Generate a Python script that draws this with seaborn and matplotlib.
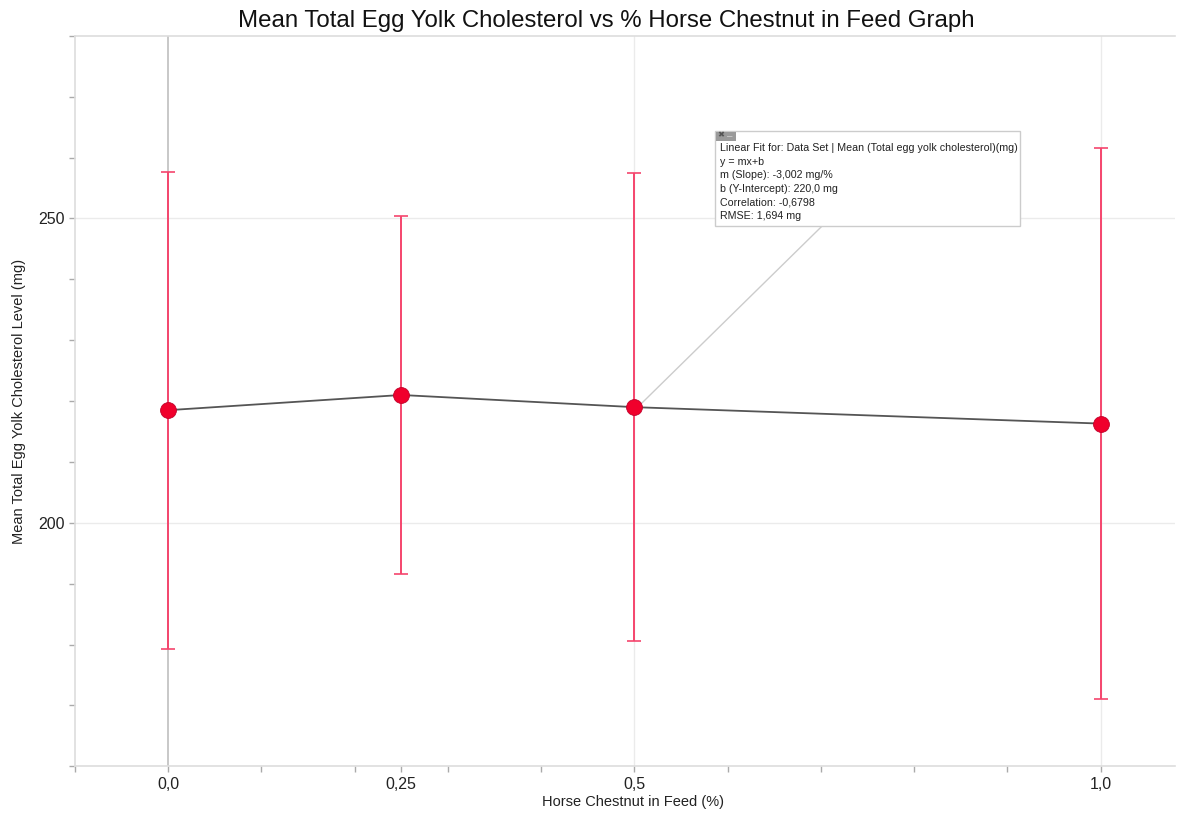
import matplotlib
matplotlib.use("Agg")
import matplotlib.pyplot as plt
from matplotlib.patches import Rectangle
import seaborn as sns
import pandas as pd
import numpy as np

# Data
feed_pct = [0.0, 0.25, 0.5, 1.0]
mean_chol = [218.5, 221.0, 219.0, 216.3]
err_chol = [39.2, 29.4, 38.5, 45.2]
x_tick_vals = [0.0, 0.25, 0.5, 1.0]
x_tick_labels = ["0,0", "0,25", "0,5", "1,0"]
y_tick_vals = [200, 250]
y_tick_labels = ["200", "250"]
fit_lines = [
    "Linear Fit for: Data Set | Mean (Total egg yolk cholesterol)(mg)",
    "y = mx+b",
    "m (Slope): -3,002 mg/%",
    "b (Y-Intercept): 220,0 mg",
    "Correlation: -0,6798",
    "RMSE: 1,694 mg",
]

sns.set_style("white")
plt.rcParams["font.family"] = ["Liberation Sans", "DejaVu Sans"]

df = pd.DataFrame({"x": feed_pct, "y": mean_chol, "e": err_chol})

W, H = 1187, 816
fig = plt.figure(figsize=(W / 100, H / 100), dpi=100)
ax = fig.add_axes([0.063, 0.061, 0.927, 0.895])

ax.set_xlim(-0.1, 1.08)
ax.set_ylim(160, 280)

# grid lines
for yv in y_tick_vals:
    ax.axhline(yv, color="#ebebeb", lw=1, zorder=0)
for xv in [0.5, 1.0]:
    ax.axvline(xv, color="#ebebeb", lw=1, zorder=0)
ax.axvline(0.0, color="#c4c4c4", lw=1.3, zorder=0)

# error bars
ax.errorbar(df["x"], df["y"], yerr=df["e"], fmt="none", ecolor="#f5456d",
            elinewidth=1.4, capsize=5, capthick=1.2, zorder=2)
# connecting line
sns.lineplot(data=df, x="x", y="y", ax=ax, color="#555555", lw=1.3,
             zorder=3, sort=False)
# markers
sns.scatterplot(data=df, x="x", y="y", ax=ax, color="#f0002c", s=130,
                edgecolor="#c0002a", linewidth=0.6, zorder=4)

# ticks
ax.set_xticks(x_tick_vals)
ax.set_xticklabels(x_tick_labels, fontsize=11.5, color="#222222")
ax.set_xticks(np.arange(-0.1, 1.08, 0.1), minor=True)
ax.set_yticks(y_tick_vals)
ax.set_yticklabels(y_tick_labels, fontsize=11.5, color="#222222")
ax.set_yticks(np.arange(160, 281, 10), minor=True)
ax.tick_params(axis="both", which="both", direction="out", length=4,
               color="#aaaaaa", width=1, bottom=True, left=True)
ax.tick_params(axis="x", which="major", pad=4)
ax.tick_params(axis="y", which="major", pad=3)

for side in ["top", "left", "bottom"]:
    ax.spines[side].set_color("#dddddd")
    ax.spines[side].set_linewidth(1.2)
ax.spines["right"].set_visible(False)

ax.set_xlabel("")
ax.set_ylabel("")
fig.text(633 / W, 1 - 802 / H, "Horse Chestnut in Feed (%)", fontsize=10.5,
         color="#222222", ha="center", va="center")
fig.text(19 / W, 1 - 401 / H, "Mean Total Egg Yolk Cholesterol Level (mg)",
         fontsize=10.5, color="#222222", ha="center", va="center",
         rotation=90)
fig.text(606 / W, 1 - 21 / H,
         "Mean Total Egg Yolk Cholesterol vs % Horse Chestnut in Feed Graph",
         fontsize=17.3, color="#111111", ha="center", va="center")

# Annotation box with leader line
ax.plot([0.505, 0.705], [219.2, 249.3], color="#cccccc", lw=1, zorder=1)
fig.patches.append(Rectangle((715 / W, 1 - 226 / H), 305 / W, 95 / H,
                             transform=fig.transFigure, fc="white",
                             ec="#cccccc", lw=1, zorder=5))
fig.patches.append(Rectangle((716 / W, 1 - 141 / H), 20 / W, 9 / H,
                             transform=fig.transFigure, fc="#9a9a9a",
                             ec="none", zorder=6))
fig.text(717 / W, 1 - 136 / H, "\u2716", fontsize=6, color="#555555",
         ha="left", va="center", zorder=7)
fig.text(727 / W, 1 - 136 / H, "\u2013", fontsize=7, color="#d0d0d0",
         ha="left", va="center", zorder=7)
fig.text(720 / W, 1 - 143 / H, "\n".join(fit_lines), fontsize=7.7,
         color="#222222", ha="left", va="top", linespacing=1.45, zorder=7)

fig.savefig("out.png", dpi=100)
